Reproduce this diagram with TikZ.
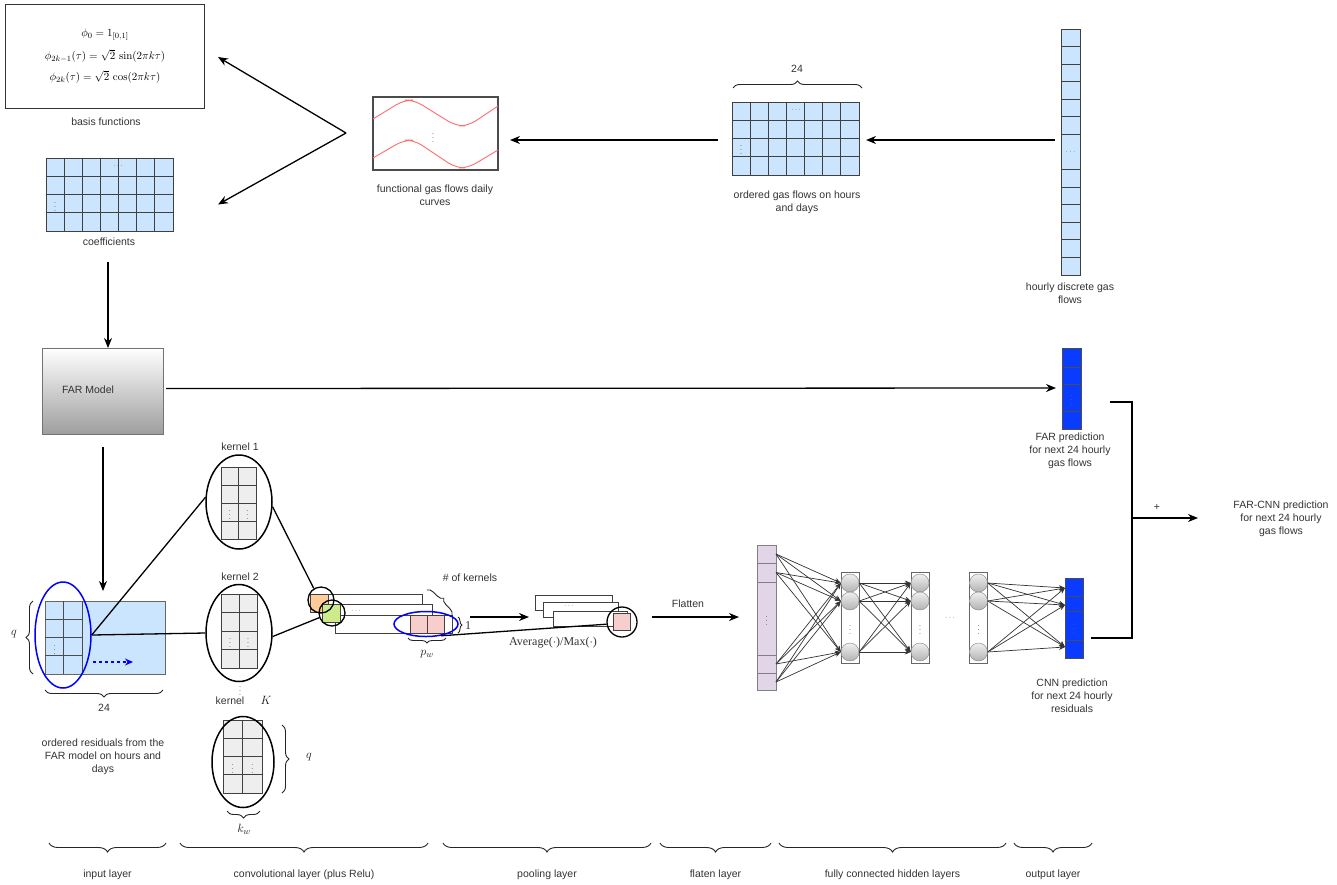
\documentclass[tikz,border=0pt]{standalone}
\usepackage[no-math]{fontspec}
\setmainfont{Liberation Sans}
\newfontfamily\serifont{Liberation Serif}
\usetikzlibrary{arrows.meta,shapes.geometric,decorations.pathreplacing,calc}
\definecolor{lblue}{HTML}{CCE5FF}
\definecolor{kgray}{HTML}{EEEEEE}
\definecolor{fpink}{HTML}{F8CECC}
\definecolor{forange}{HTML}{FFCC99}
\definecolor{fgreen}{HTML}{CDEB8B}
\definecolor{fpurple}{HTML}{E1D5E7}
\definecolor{dblue}{HTML}{0A3CFF}
\definecolor{curvered}{HTML}{FF6B6B}
\definecolor{txt}{HTML}{333333}
\newcommand{\GridAt}[8]{%
  \node[draw=black!75, fill=#8, line width=0.8pt, minimum width=#4pt, minimum height=#5pt, anchor=north west, inner sep=0pt, outer sep=0pt] (#1) at (#2,#3) {};
  \foreach \gi in {2,...,#6}{\draw[line width=0.8pt, black!75] ({#2+(\gi-1)*#4/#6},#3) -- ++(0,#5);}
  \foreach \gj in {2,...,#7}{\draw[line width=0.8pt, black!75] (#2,{#3+(\gj-1)*#5/#7}) -- ++(#4,0);}
}
\begin{document}
\begin{tikzpicture}[x=1pt,y=-1pt, font=\fontsize{10.5}{13}\selectfont, text=txt,
  arr/.style={line width=1.3pt, -{Stealth[length=10pt,width=8pt]}},
  thinarr/.style={line width=0.7pt, black!80, -{Stealth[length=6pt,width=5pt]}},
  lab/.style={align=center, inner sep=0pt},
  fml/.style={align=center, inner sep=0pt, font=\fontsize{11}{13}\selectfont, text=black},
  mth/.style={inner sep=0pt, font=\fontsize{12.5}{14}\selectfont, text=black!90},
  vd/.style={inner sep=0pt, font=\fontsize{7}{7}\selectfont, text=black!75},
  br/.style={decorate, decoration={brace, amplitude=7pt}, line width=0.9pt, black!85},
  box/.style={draw=black!75, line width=0.8pt, anchor=north west, inner sep=0pt, outer sep=0pt},
  ring/.style={circle, draw=black, line width=1.3pt, inner sep=0pt},
  nnc/.style={circle, draw=black!50, top color=black!6, bottom color=black!30, minimum size=18pt, inner sep=0pt},
  layer/.style={draw=black!60, fill=white, line width=0.8pt, minimum width=18pt, minimum height=91pt, inner sep=0pt}
]
\useasboundingbox (0,0) rectangle (1337,884);

% ---------- top left: basis functions ----------
\node[box, draw=black!80, minimum width=199pt, minimum height=104pt] (basis) at (5,4) {};
\node[fml] (f1) at (105,35) {$\phi_0 = 1_{[0,1]}$};
\node[fml] (f2) at (105,56) {$\phi_{2k-1}(\tau) = \sqrt{2}\,\sin(2\pi k\tau)$};
\node[fml] (f3) at (105,77) {$\phi_{2k}(\tau) = \sqrt{2}\,\cos(2\pi k\tau)$};
\node[lab] (basislab) at (106,122) {basis functions};

% coefficients grid
\GridAt{coef}{46}{158}{127}{73}{7}{4}{lblue}
\node[vd] at (118,166) {$\cdots$};
\node[vd] at (55,204) {$\vdots$};
\node[lab] (coeflab) at (109,242) {coefficients};

% functional curves
\node[box, draw=black!70, line width=1.1pt, minimum width=125pt, minimum height=73pt] (func) at (373,97) {};
\draw[curvered, line width=0.9pt, rounded corners=9pt] (373,119) -- (404,100) -- (414,100) -- (456,126) -- (468,126) -- (498,106);
\draw[curvered, line width=0.9pt, rounded corners=9pt] (373,158) -- (404,140) -- (414,140) -- (456,168) -- (468,168) -- (498,150);
\node[vd] at (433,135) {$\vdots$};
\node[lab] (funclab) at (435,195) {functional gas flows daily\\curves};

\coordinate (fsplit) at (346,133);
\draw[arr] (fsplit) -- ($(basis.east)+(14,1)$);
\draw[arr] (fsplit) -- ($(coef.east)+(45,10)$);

% ordered gas flows grid
\GridAt{ord}{732}{102}{127}{73}{7}{4}{lblue}
\node[vd] at (796,110) {$\cdots$};
\node[vd] at (741,147) {$\vdots$};
\draw[br] (733,88) -- (862,88);
\node[lab] (ord24) at (797,69) {24};
\node[lab] (ordlab) at (797,202) {ordered gas flows on hours\\and days};
\draw[arr] ($(ord.west)+(-14,1.5)$) -- ($(func.east)+(12,6.5)$);

% hourly column
\node[box, fill=lblue, minimum width=19pt, minimum height=246pt] (hourly) at (1061,29) {};
\foreach \k in {1,2,3,4,5,6,8,9,10,11,12,13} \draw[line width=0.8pt, black!75] (1061,{29+\k*246/14}) -- ++(19,0);
\node[vd] at (1070.5,152) {$\cdots$};
\node[lab] (hourlab) at (1070,293) {hourly discrete gas\\flows};
\draw[arr] ($(hourly.west)+(-6,-12)$) -- ($(ord.east)+(7,1.5)$);

% ---------- FAR model ----------
\node[box, draw=black!55, top color=white, bottom color=black!38, minimum width=121pt, minimum height=86pt] (far) at (42,348) {};
\node[lab] (farlab) at (88,390) {FAR Model};
\coordinate (c1) at (108,262);
\draw[arr] (c1) -- (c1 |- far.north);

% FAR prediction
\node[box, fill=dblue, draw=black!70, minimum width=19pt, minimum height=81pt] (farpred) at (1062,348) {};
\foreach \yy in {367,384,411} \draw[line width=0.8pt, black!70] (1062,\yy) -- ++(19,0);
\node[vd, text=black!60] at (1071.5,397) {$\vdots$};
\node[lab] (farpredlab) at (1070,451) {FAR prediction\\for next 24 hourly\\gas flows};
\draw[arr] ($(far.east)+(3,-2.5)$) -- ($(farpred.west)+(-6,-0.5)$);

% combination
\coordinate (jtop) at (1110,402);
\coordinate (jbot) at (1091,638);
\draw[line width=1.5pt] (jtop) -- (1132,402) -- (1132,638) -- (jbot);
\coordinate (jmid) at (1132,518);
\draw[arr] (jmid) -- (1198,518);
\node[lab] at (1157,507) {+};
\node[lab] (farcnnlab) at (1281,519) {FAR-CNN prediction\\for next 24 hourly\\gas flows};

% ---------- input layer ----------
\coordinate (c2) at (103,447);
\draw[arr] (c2) -- (103,591);
\node[box, draw=black!60, fill=lblue, minimum width=120pt, minimum height=73pt] (inp) at (45,601) {};
\foreach \xx in {63.5,82} \draw[line width=0.8pt, black!70] (\xx,601) -- (\xx,674);
\foreach \yy in {619.25,637.5,655.75} \draw[line width=0.8pt, black!70] (45,\yy) -- (82,\yy);
\node[vd] at (54.5,647) {$\vdots$};
\node[ellipse, draw=blue, line width=1.5pt, minimum width=56pt, minimum height=106pt, inner sep=0pt] (inpell) at (63,635) {};
\draw[blue, dashed, line width=1.3pt, -{Stealth[length=8pt,width=7pt]}] (93,662) -- (133,662);
\draw[br] (33,674) -- (33,601);
\node[mth] at (14,634) {$q$};
\draw[br] (163,690) -- (45,690);
\node[lab] at (104,708) {24};
\node[lab] (inplab) at (103,757) {ordered residuals from the\\FAR model on hours and\\days};

% ---------- kernels ----------
\GridAt{k1g}{221}{467}{35}{72}{2}{4}{kgray}
\node[vd] at (229.75,512) {$\vdots$};
\node[vd] at (247.25,512) {$\vdots$};
\node[ellipse, draw=black, line width=1.5pt, minimum width=66pt, minimum height=94pt, inner sep=0pt] (k1) at (239,502) {};
\node[lab] at (240,447) {kernel 1};

\GridAt{k2g}{221}{594}{36}{74}{2}{4}{kgray}
\node[vd] at (230,640) {$\vdots$};
\node[vd] at (248,640) {$\vdots$};
\node[ellipse, draw=black, line width=1.5pt, minimum width=66pt, minimum height=97pt, inner sep=0pt] (k2) at (239,633) {};
\node[lab] at (240,577) {kernel 2};
\node[vd] at (240,688) {$\vdots$};
\node[lab] at (230,701) {kernel};
\node[mth] at (266,700) {$K$};

\GridAt{kKg}{223}{720}{39}{73}{2}{4}{kgray}
\node[vd] at (232.75,766) {$\vdots$};
\node[vd] at (252.25,766) {$\vdots$};
\node[ellipse, draw=black, line width=1.5pt, minimum width=62pt, minimum height=91pt, inner sep=0pt] (kK) at (243,762) {};
\draw[br] (282,725) -- (282,793);
\node[mth] at (309,757) {$q$};
\draw[br] (260,811) -- (227,811);
\node[mth] at (244,829) {$k_w$};

\draw[line width=1.3pt] (inpell.east) -- (k1.172);
\draw[line width=1.3pt] (inpell.east) -- (k2.west);

% ---------- convolution maps ----------
\node[box, fill=white, minimum width=112pt, minimum height=18pt] (cr1) at (310,594) {};
\node[box, fill=forange, minimum width=18pt, minimum height=18pt] (cor) at (310,594) {};
\node[box, fill=white, minimum width=110pt, minimum height=18pt] (cr2) at (322,604) {};
\node[box, fill=white, minimum width=117pt, minimum height=18pt] (cr3) at (335,615) {};
\node[box, fill=fgreen, minimum width=18pt, minimum height=18pt] (cgr) at (322,604) {};
\node[ring, minimum size=26pt] (cc1) at (321,600) {};
\node[ring, minimum size=26pt] (cc2) at (332,613) {};
\node[vd] at (356,611) {$\cdots$};
\node[box, fill=fpink, minimum width=17pt, minimum height=18pt] (cp1) at (410,615) {};
\node[box, fill=fpink, minimum width=17pt, minimum height=18pt] (cp2) at (427,615) {};
\node[ellipse, draw=blue, line width=1.5pt, minimum width=64pt, minimum height=25pt, inner sep=0pt] (cell) at (426,624) {};
\draw[line width=1.3pt] (k1.-8) -- (cc1.122);
\draw[line width=1.3pt] (k2.-6) -- (cc2.200);
\draw[br, decoration={brace, amplitude=6pt}] (427,590) -- (452,615);
\node[lab] at (470,578) {\# of kernels};
\draw[br, decoration={brace, amplitude=4pt}] (458,617) -- (458,633);
\node[lab, font=\serifont\fontsize{12}{14}\selectfont] at (468,626) {1};
\draw[br, decoration={brace, amplitude=5pt}] (446,638) -- (408,638);
\node[mth] at (427,654) {$p_w$};

% ---------- pooling ----------
\draw[arr] (470,617) -- (529,617);
\node[box, fill=white, minimum width=77pt, minimum height=15pt] (pr1) at (535,595) {};
\node[box, fill=white, minimum width=75pt, minimum height=15pt] (pr2) at (543,602) {};
\node[box, fill=white, minimum width=74pt, minimum height=15pt] (pr3) at (553,611) {};
\node[vd] at (569,606) {$\cdots$};
\node[box, fill=fpink, minimum width=17pt, minimum height=17pt] (pp) at (613,613) {};
\node[ring, minimum size=30pt] (pc) at (622,622) {};
\draw[line width=1.3pt] (cell.-38) -- (pc.188);
\node[lab, font=\serifont\fontsize{12}{14}\selectfont] at (553,643) {Average($\cdot$)/Max($\cdot$)};

% ---------- flatten ----------
\draw[arr] (652,617) -- (739,617);
\node[lab] at (688,604) {Flatten};
\node[box, draw=black!50, fill=fpurple, minimum width=19pt, minimum height=145pt] (flat) at (757,545) {};
\foreach \yy in {563,582,655,673} \draw[line width=0.8pt, black!50] (757,\yy) -- (776,\yy);
\node[vd] at (766.5,618) {$\vdots$};
\coordinate (fa) at (776,554);
\coordinate (fb) at (776,572.5);
\coordinate (fc) at (776,664);
\coordinate (fd) at (776,682);

% hidden layers
\node[layer] (l1) at (850,617.5) {};
\node[layer] (l2) at (920,617.5) {};
\node[layer] (l3) at (978.5,617.5) {};
\foreach \L/\xx in {l1/850,l2/920,l3/978.5}{
  \node[nnc] (\L a) at (\xx,583) {};
  \node[nnc] (\L b) at (\xx,601) {};
  \node[nnc] (\L c) at (\xx,652) {};
  \node[vd] at (\xx,627) {$\vdots$};
}
\node[vd] at (950,618) {$\cdots$};
\foreach \s in {fa,fb,fc,fd} \foreach \t in {l1a,l1b,l1c} \draw[thinarr] (\s) -- (\t.west);
\foreach \s in {l1a,l1b,l1c} \foreach \t in {l2a,l2b,l2c} \draw[thinarr] (\s.east) -- (\t.west);

% CNN prediction
\node[box, fill=dblue, draw=black!70, minimum width=18pt, minimum height=80pt] (cnnpred) at (1065,578) {};
\foreach \yy in {596,611,640} \draw[line width=0.8pt, black!70] (1065,\yy) -- (1083,\yy);
\node[vd, text=black!60] at (1074,626) {$\vdots$};
\coordinate (oa) at (1065,588);
\coordinate (ob) at (1065,605);
\coordinate (oc) at (1065,647);
\foreach \s in {l3a,l3b,l3c} \foreach \t in {oa,ob,oc} \draw[thinarr] (\s.east) -- (\t);
\node[lab] (cnnlab) at (1072,696) {CNN prediction\\for next 24 hourly\\residuals};

% ---------- bottom braces ----------
\foreach \xa/\xb/\txt in {49/166/input layer, 180/428/convolutional layer (plus Relu), 443/651/pooling layer, 660/771/flaten layer, 779/1006/fully connected hidden layers, 1014/1092/output layer}{
  \draw[br, decoration={brace, amplitude=9pt}] (\xb,843) -- (\xa,843);
  \node[lab] at ({(\xa+\xb)/2},875) {\txt};
}
\end{tikzpicture}
\end{document}
